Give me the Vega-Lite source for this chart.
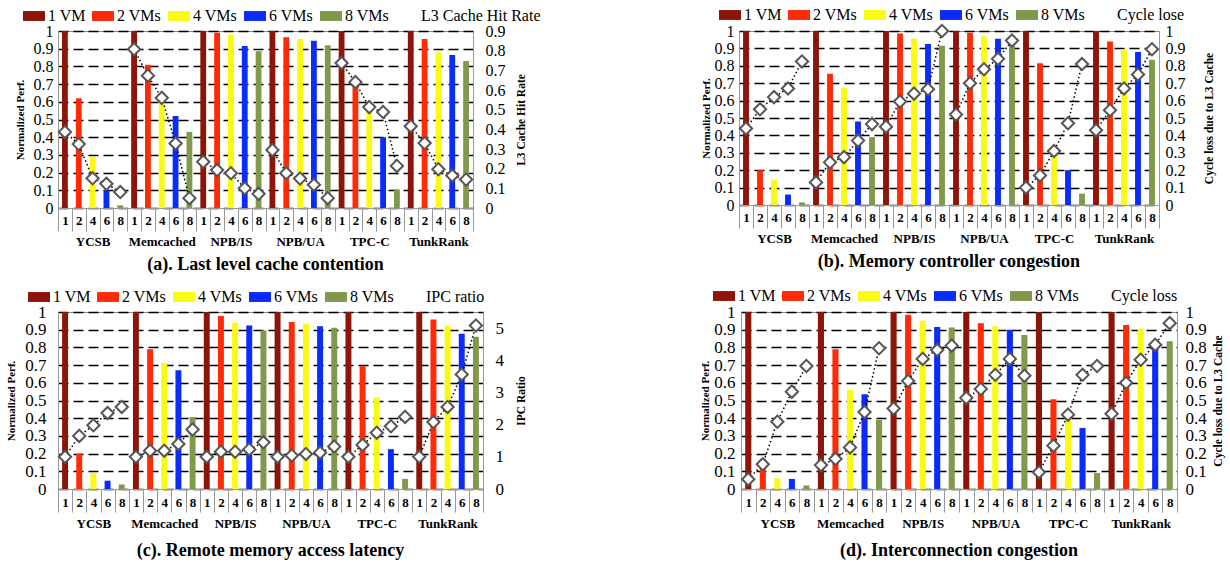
{
"$schema": "https://vega.github.io/schema/vega-lite/v6.json",
"padding": {"left": 5, "top": 3, "right": 2, "bottom": 2},
"background": "white",
"config": {"font": "Liberation Serif", "view": {"stroke": "#888", "strokeWidth": 1}},
"datasets": {
"a": [
{"w":"YCSB","v":"1","s":"1 VM","k":"YCSB|1","y":1,"r":0.387},
{"w":"YCSB","v":"2","s":"2 VMs","k":"YCSB|2","y":0.62,"r":0.325},
{"w":"YCSB","v":"4","s":"4 VMs","k":"YCSB|4","y":0.29,"r":0.151},
{"w":"YCSB","v":"6","s":"6 VMs","k":"YCSB|6","y":0.1,"r":0.123},
{"w":"YCSB","v":"8","s":"8 VMs","k":"YCSB|8","y":0.015,"r":0.081},
{"w":"Memcached","v":"1","s":"1 VM","k":"Memcached|1","y":1,"r":0.807},
{"w":"Memcached","v":"2","s":"2 VMs","k":"Memcached|2","y":0.81,"r":0.673},
{"w":"Memcached","v":"4","s":"4 VMs","k":"Memcached|4","y":0.61,"r":0.56},
{"w":"Memcached","v":"6","s":"6 VMs","k":"Memcached|6","y":0.52,"r":0.328},
{"w":"Memcached","v":"8","s":"8 VMs","k":"Memcached|8","y":0.43,"r":0.05},
{"w":"NPB/IS","v":"1","s":"1 VM","k":"NPB/IS|1","y":1,"r":0.235},
{"w":"NPB/IS","v":"2","s":"2 VMs","k":"NPB/IS|2","y":0.99,"r":0.193},
{"w":"NPB/IS","v":"4","s":"4 VMs","k":"NPB/IS|4","y":0.98,"r":0.177},
{"w":"NPB/IS","v":"6","s":"6 VMs","k":"NPB/IS|6","y":0.915,"r":0.1},
{"w":"NPB/IS","v":"8","s":"8 VMs","k":"NPB/IS|8","y":0.885,"r":0.072},
{"w":"NPB/UA","v":"1","s":"1 VM","k":"NPB/UA|1","y":1,"r":0.295},
{"w":"NPB/UA","v":"2","s":"2 VMs","k":"NPB/UA|2","y":0.965,"r":0.177},
{"w":"NPB/UA","v":"4","s":"4 VMs","k":"NPB/UA|4","y":0.955,"r":0.15},
{"w":"NPB/UA","v":"6","s":"6 VMs","k":"NPB/UA|6","y":0.945,"r":0.118},
{"w":"NPB/UA","v":"8","s":"8 VMs","k":"NPB/UA|8","y":0.92,"r":0.05},
{"w":"TPC-C","v":"1","s":"1 VM","k":"TPC-C|1","y":1,"r":0.737},
{"w":"TPC-C","v":"2","s":"2 VMs","k":"TPC-C|2","y":0.71,"r":0.64},
{"w":"TPC-C","v":"4","s":"4 VMs","k":"TPC-C|4","y":0.6,"r":0.513},
{"w":"TPC-C","v":"6","s":"6 VMs","k":"TPC-C|6","y":0.4,"r":0.488},
{"w":"TPC-C","v":"8","s":"8 VMs","k":"TPC-C|8","y":0.105,"r":0.214},
{"w":"TunkRank","v":"1","s":"1 VM","k":"TunkRank|1","y":1,"r":0.416},
{"w":"TunkRank","v":"2","s":"2 VMs","k":"TunkRank|2","y":0.955,"r":0.33},
{"w":"TunkRank","v":"4","s":"4 VMs","k":"TunkRank|4","y":0.88,"r":0.197},
{"w":"TunkRank","v":"6","s":"6 VMs","k":"TunkRank|6","y":0.865,"r":0.165},
{"w":"TunkRank","v":"8","s":"8 VMs","k":"TunkRank|8","y":0.83,"r":0.145}
],
"b": [
{"w":"YCSB","v":"1","s":"1 VM","k":"YCSB|1","y":1,"r":0.44},
{"w":"YCSB","v":"2","s":"2 VMs","k":"YCSB|2","y":0.2,"r":0.55},
{"w":"YCSB","v":"4","s":"4 VMs","k":"YCSB|4","y":0.145,"r":0.62},
{"w":"YCSB","v":"6","s":"6 VMs","k":"YCSB|6","y":0.06,"r":0.67},
{"w":"YCSB","v":"8","s":"8 VMs","k":"YCSB|8","y":0.015,"r":0.825},
{"w":"Memcached","v":"1","s":"1 VM","k":"Memcached|1","y":1,"r":0.13},
{"w":"Memcached","v":"2","s":"2 VMs","k":"Memcached|2","y":0.755,"r":0.245},
{"w":"Memcached","v":"4","s":"4 VMs","k":"Memcached|4","y":0.675,"r":0.275},
{"w":"Memcached","v":"6","s":"6 VMs","k":"Memcached|6","y":0.48,"r":0.37},
{"w":"Memcached","v":"8","s":"8 VMs","k":"Memcached|8","y":0.39,"r":0.465},
{"w":"NPB/IS","v":"1","s":"1 VM","k":"NPB/IS|1","y":1,"r":0.45},
{"w":"NPB/IS","v":"2","s":"2 VMs","k":"NPB/IS|2","y":0.985,"r":0.595},
{"w":"NPB/IS","v":"4","s":"4 VMs","k":"NPB/IS|4","y":0.955,"r":0.64},
{"w":"NPB/IS","v":"6","s":"6 VMs","k":"NPB/IS|6","y":0.925,"r":0.665},
{"w":"NPB/IS","v":"8","s":"8 VMs","k":"NPB/IS|8","y":0.915,"r":1.0},
{"w":"NPB/UA","v":"1","s":"1 VM","k":"NPB/UA|1","y":1,"r":0.52},
{"w":"NPB/UA","v":"2","s":"2 VMs","k":"NPB/UA|2","y":0.99,"r":0.7},
{"w":"NPB/UA","v":"4","s":"4 VMs","k":"NPB/UA|4","y":0.97,"r":0.78},
{"w":"NPB/UA","v":"6","s":"6 VMs","k":"NPB/UA|6","y":0.955,"r":0.84},
{"w":"NPB/UA","v":"8","s":"8 VMs","k":"NPB/UA|8","y":0.93,"r":0.945},
{"w":"TPC-C","v":"1","s":"1 VM","k":"TPC-C|1","y":1,"r":0.1},
{"w":"TPC-C","v":"2","s":"2 VMs","k":"TPC-C|2","y":0.815,"r":0.17},
{"w":"TPC-C","v":"4","s":"4 VMs","k":"TPC-C|4","y":0.3,"r":0.31},
{"w":"TPC-C","v":"6","s":"6 VMs","k":"TPC-C|6","y":0.2,"r":0.47},
{"w":"TPC-C","v":"8","s":"8 VMs","k":"TPC-C|8","y":0.065,"r":0.81},
{"w":"TunkRank","v":"1","s":"1 VM","k":"TunkRank|1","y":1,"r":0.43},
{"w":"TunkRank","v":"2","s":"2 VMs","k":"TunkRank|2","y":0.94,"r":0.545},
{"w":"TunkRank","v":"4","s":"4 VMs","k":"TunkRank|4","y":0.895,"r":0.67},
{"w":"TunkRank","v":"6","s":"6 VMs","k":"TunkRank|6","y":0.88,"r":0.75},
{"w":"TunkRank","v":"8","s":"8 VMs","k":"TunkRank|8","y":0.835,"r":0.895}
],
"c": [
{"w":"YCSB","v":"1","s":"1 VM","k":"YCSB|1","y":1,"r":1.0},
{"w":"YCSB","v":"2","s":"2 VMs","k":"YCSB|2","y":0.2,"r":1.65},
{"w":"YCSB","v":"4","s":"4 VMs","k":"YCSB|4","y":0.09,"r":1.98},
{"w":"YCSB","v":"6","s":"6 VMs","k":"YCSB|6","y":0.047,"r":2.36},
{"w":"YCSB","v":"8","s":"8 VMs","k":"YCSB|8","y":0.026,"r":2.55},
{"w":"Memcached","v":"1","s":"1 VM","k":"Memcached|1","y":1,"r":1.0},
{"w":"Memcached","v":"2","s":"2 VMs","k":"Memcached|2","y":0.79,"r":1.19},
{"w":"Memcached","v":"4","s":"4 VMs","k":"Memcached|4","y":0.713,"r":1.19},
{"w":"Memcached","v":"6","s":"6 VMs","k":"Memcached|6","y":0.671,"r":1.4},
{"w":"Memcached","v":"8","s":"8 VMs","k":"Memcached|8","y":0.406,"r":1.85},
{"w":"NPB/IS","v":"1","s":"1 VM","k":"NPB/IS|1","y":1,"r":1.0},
{"w":"NPB/IS","v":"2","s":"2 VMs","k":"NPB/IS|2","y":0.977,"r":1.16},
{"w":"NPB/IS","v":"4","s":"4 VMs","k":"NPB/IS|4","y":0.94,"r":1.16},
{"w":"NPB/IS","v":"6","s":"6 VMs","k":"NPB/IS|6","y":0.924,"r":1.23},
{"w":"NPB/IS","v":"8","s":"8 VMs","k":"NPB/IS|8","y":0.896,"r":1.45},
{"w":"NPB/UA","v":"1","s":"1 VM","k":"NPB/UA|1","y":1,"r":1.0},
{"w":"NPB/UA","v":"2","s":"2 VMs","k":"NPB/UA|2","y":0.943,"r":1.04},
{"w":"NPB/UA","v":"4","s":"4 VMs","k":"NPB/UA|4","y":0.934,"r":1.09},
{"w":"NPB/UA","v":"6","s":"6 VMs","k":"NPB/UA|6","y":0.92,"r":1.13},
{"w":"NPB/UA","v":"8","s":"8 VMs","k":"NPB/UA|8","y":0.911,"r":1.32},
{"w":"TPC-C","v":"1","s":"1 VM","k":"TPC-C|1","y":1,"r":1.0},
{"w":"TPC-C","v":"2","s":"2 VMs","k":"TPC-C|2","y":0.694,"r":1.37},
{"w":"TPC-C","v":"4","s":"4 VMs","k":"TPC-C|4","y":0.518,"r":1.75},
{"w":"TPC-C","v":"6","s":"6 VMs","k":"TPC-C|6","y":0.225,"r":1.95},
{"w":"TPC-C","v":"8","s":"8 VMs","k":"TPC-C|8","y":0.057,"r":2.24},
{"w":"TunkRank","v":"1","s":"1 VM","k":"TunkRank|1","y":1,"r":1.0},
{"w":"TunkRank","v":"2","s":"2 VMs","k":"TunkRank|2","y":0.957,"r":2.08},
{"w":"TunkRank","v":"4","s":"4 VMs","k":"TunkRank|4","y":0.922,"r":2.55},
{"w":"TunkRank","v":"6","s":"6 VMs","k":"TunkRank|6","y":0.877,"r":3.56},
{"w":"TunkRank","v":"8","s":"8 VMs","k":"TunkRank|8","y":0.86,"r":5.08}
],
"d": [
{"w":"YCSB","v":"1","s":"1 VM","k":"YCSB|1","y":1,"r":0.055},
{"w":"YCSB","v":"2","s":"2 VMs","k":"YCSB|2","y":0.17,"r":0.14},
{"w":"YCSB","v":"4","s":"4 VMs","k":"YCSB|4","y":0.06,"r":0.38},
{"w":"YCSB","v":"6","s":"6 VMs","k":"YCSB|6","y":0.057,"r":0.55},
{"w":"YCSB","v":"8","s":"8 VMs","k":"YCSB|8","y":0.02,"r":0.695},
{"w":"Memcached","v":"1","s":"1 VM","k":"Memcached|1","y":1,"r":0.135},
{"w":"Memcached","v":"2","s":"2 VMs","k":"Memcached|2","y":0.79,"r":0.17},
{"w":"Memcached","v":"4","s":"4 VMs","k":"Memcached|4","y":0.56,"r":0.235},
{"w":"Memcached","v":"6","s":"6 VMs","k":"Memcached|6","y":0.535,"r":0.435},
{"w":"Memcached","v":"8","s":"8 VMs","k":"Memcached|8","y":0.39,"r":0.795},
{"w":"NPB/IS","v":"1","s":"1 VM","k":"NPB/IS|1","y":1,"r":0.455},
{"w":"NPB/IS","v":"2","s":"2 VMs","k":"NPB/IS|2","y":0.985,"r":0.61},
{"w":"NPB/IS","v":"4","s":"4 VMs","k":"NPB/IS|4","y":0.95,"r":0.735},
{"w":"NPB/IS","v":"6","s":"6 VMs","k":"NPB/IS|6","y":0.915,"r":0.785},
{"w":"NPB/IS","v":"8","s":"8 VMs","k":"NPB/IS|8","y":0.912,"r":0.81},
{"w":"NPB/UA","v":"1","s":"1 VM","k":"NPB/UA|1","y":1,"r":0.515},
{"w":"NPB/UA","v":"2","s":"2 VMs","k":"NPB/UA|2","y":0.937,"r":0.565},
{"w":"NPB/UA","v":"4","s":"4 VMs","k":"NPB/UA|4","y":0.92,"r":0.645},
{"w":"NPB/UA","v":"6","s":"6 VMs","k":"NPB/UA|6","y":0.9,"r":0.735},
{"w":"NPB/UA","v":"8","s":"8 VMs","k":"NPB/UA|8","y":0.87,"r":0.64},
{"w":"TPC-C","v":"1","s":"1 VM","k":"TPC-C|1","y":1,"r":0.095},
{"w":"TPC-C","v":"2","s":"2 VMs","k":"TPC-C|2","y":0.507,"r":0.245},
{"w":"TPC-C","v":"4","s":"4 VMs","k":"TPC-C|4","y":0.41,"r":0.42},
{"w":"TPC-C","v":"6","s":"6 VMs","k":"TPC-C|6","y":0.345,"r":0.645},
{"w":"TPC-C","v":"8","s":"8 VMs","k":"TPC-C|8","y":0.09,"r":0.695},
{"w":"TunkRank","v":"1","s":"1 VM","k":"TunkRank|1","y":1,"r":0.425},
{"w":"TunkRank","v":"2","s":"2 VMs","k":"TunkRank|2","y":0.927,"r":0.6},
{"w":"TunkRank","v":"4","s":"4 VMs","k":"TunkRank|4","y":0.905,"r":0.73},
{"w":"TunkRank","v":"6","s":"6 VMs","k":"TunkRank|6","y":0.83,"r":0.815},
{"w":"TunkRank","v":"8","s":"8 VMs","k":"TunkRank|8","y":0.835,"r":0.937}
]
},
"vconcat": [
{
"hconcat": [
{
"width": 415, "height": 177,
"data": {"name": "a"},
"title": {"text": "(a). Last level cache contention", "orient": "bottom", "font": "Liberation Serif", "fontSize": 18, "fontWeight": "bold", "offset": 8, "anchor": "middle", "color": "black"},
"encoding": {"x": {"field": "k", "type": "nominal", "sort": null, "scale": {"paddingInner": 0, "paddingOuter": 0},
  "axis": {"title": null, "labelExpr": "split(datum.value,'|')[1] == '4' ? [split(datum.value,'|')[1], split(datum.value,'|')[0]] : split(datum.value,'|')[1]", "labelAngle": 0, "tickBand": "extent", "tickSize": 23, "tickColor": "#999", "domainColor": "#999", "labelPadding": -17, "labelFont": "Liberation Serif", "labelFontWeight": "bold", "labelFontSize": 13, "labelLineHeight": 21, "labelBaseline": "top", "labelColor": "black", "labelOverlap": false}}},
"layer": [
{"mark": {"type": "bar", "width": {"band": 0.42}},
 "encoding": {
  "y": {"field": "y", "type": "quantitative", "scale": {"domain": [0, 1], "nice": false},
   "axis": {"title": "Normalized Perf.", "values": [0,0.1,0.2,0.3,0.4,0.5,0.6,0.7,0.8,0.9,1], "format": "~g", "grid": true, "gridDash": [10,5], "gridColor": "black", "gridWidth": 1.3, "gridOpacity": 1, "ticks": false, "domainColor": "#999", "labelFont": "Liberation Serif", "labelFontSize": 16, "labelColor": "black", "labelPadding": 5, "titleFont": "Liberation Serif", "titleFontWeight": "bold", "titleFontSize": 11, "titleColor": "black", "titlePadding": 8}},
  "color": {"field": "s", "type": "nominal", "scale": {"domain": ["1 VM","2 VMs","4 VMs","6 VMs","8 VMs","L3 Cache Hit Rate"], "range": ["#8C1509","#FF2B06","#FAFA14","#0B2BFA","#81994C","#ffffff"]},
   "legend": {"orient": "none", "legendX": -35, "legendY": -26, "direction": "horizontal", "title": null, "symbolType": "M-1,-0.45H1V0.45H-1Z", "symbolSize": 484, "symbolStrokeWidth": 0, "symbolOpacity": 1, "labelFont": "Liberation Serif", "labelFontSize": 16, "labelColor": "black", "labelOffset": 3, "columnPadding": 6}}
 }},
{"encoding": {"y": {"field": "r", "type": "quantitative", "scale": {"domain": [0, 0.9], "nice": false},
   "axis": {"orient": "right", "title": "L3 Cache Hit Rate", "titleAngle": 270, "titleBaseline": "top", "values": [0,0.1,0.2,0.3,0.4,0.5,0.6,0.7,0.8,0.9], "format": "~g", "grid": false, "ticks": false, "domainColor": "#999", "labelFont": "Liberation Serif", "labelFontSize": 16, "labelColor": "black", "labelPadding": 12, "titleFont": "Liberation Serif", "titleFontWeight": "bold", "titleFontSize": 11.5, "titleColor": "black", "titlePadding": 10}}},
 "layer": [
  {"mark": {"type": "line", "color": "black", "strokeWidth": 1.5, "strokeDash": [1.5, 2.5]}, "encoding": {"detail": {"field": "w"}}},
  {"mark": {"type": "point", "shape": "diamond", "filled": false, "fill": "white", "fillOpacity": 1, "stroke": "#555", "strokeWidth": 2, "size": 150, "opacity": 1}}
 ]}
],
"resolve": {"scale": {"y": "independent"}}
},
{
"width": 420, "height": 174,
"data": {"name": "b"},
"title": {"text": "(b). Memory controller congestion", "orient": "bottom", "font": "Liberation Serif", "fontSize": 18, "fontWeight": "bold", "offset": 8, "anchor": "middle", "color": "black"},
"encoding": {"x": {"field": "k", "type": "nominal", "sort": null, "scale": {"paddingInner": 0, "paddingOuter": 0},
  "axis": {"title": null, "labelExpr": "split(datum.value,'|')[1] == '4' ? [split(datum.value,'|')[1], split(datum.value,'|')[0]] : split(datum.value,'|')[1]", "labelAngle": 0, "tickBand": "extent", "tickSize": 23, "tickColor": "#999", "domainColor": "#999", "labelPadding": -17, "labelFont": "Liberation Serif", "labelFontWeight": "bold", "labelFontSize": 13, "labelLineHeight": 21, "labelBaseline": "top", "labelColor": "black", "labelOverlap": false}}},
"layer": [
{"mark": {"type": "bar", "width": {"band": 0.42}},
 "encoding": {
  "y": {"field": "y", "type": "quantitative", "scale": {"domain": [0, 1], "nice": false},
   "axis": {"title": "Normalized Perf.", "values": [0,0.1,0.2,0.3,0.4,0.5,0.6,0.7,0.8,0.9,1], "format": "~g", "grid": true, "gridDash": [10,5], "gridColor": "black", "gridWidth": 1.3, "gridOpacity": 1, "ticks": false, "domainColor": "#999", "labelFont": "Liberation Serif", "labelFontSize": 16, "labelColor": "black", "labelPadding": 5, "titleFont": "Liberation Serif", "titleFontWeight": "bold", "titleFontSize": 11, "titleColor": "black", "titlePadding": 3}},
  "color": {"field": "s", "type": "nominal", "scale": {"domain": ["1 VM","2 VMs","4 VMs","6 VMs","8 VMs","Cycle lose"], "range": ["#8C1509","#FF2B06","#FAFA14","#0B2BFA","#81994C","#ffffff"]},
   "legend": {"orient": "none", "legendX": -20, "legendY": -27, "direction": "horizontal", "title": null, "symbolType": "M-1,-0.45H1V0.45H-1Z", "symbolSize": 484, "symbolStrokeWidth": 0, "symbolOpacity": 1, "labelFont": "Liberation Serif", "labelFontSize": 16, "labelColor": "black", "labelOffset": 3, "columnPadding": 6}}
 }},
{"encoding": {"y": {"field": "r", "type": "quantitative", "scale": {"domain": [0, 1], "nice": false},
   "axis": {"orient": "right", "title": "Cycle loss due to L3 Cache", "titleAngle": 270, "titleBaseline": "top", "values": [0,0.1,0.2,0.3,0.4,0.5,0.6,0.7,0.8,0.9,1], "format": "~g", "grid": false, "ticks": false, "domainColor": "#999", "labelFont": "Liberation Serif", "labelFontSize": 16, "labelColor": "black", "labelPadding": 6, "titleFont": "Liberation Serif", "titleFontWeight": "bold", "titleFontSize": 11.5, "titleColor": "black", "titlePadding": 18}}},
 "layer": [
  {"mark": {"type": "line", "color": "black", "strokeWidth": 1.5, "strokeDash": [1.5, 2.5]}, "encoding": {"detail": {"field": "w"}}},
  {"mark": {"type": "point", "shape": "diamond", "filled": false, "fill": "white", "fillOpacity": 1, "stroke": "#555", "strokeWidth": 2, "size": 150, "opacity": 1}}
 ]}
],
"resolve": {"scale": {"y": "independent"}}
}
],
"spacing": 157,
"resolve": {"scale": {"color": "independent", "x": "independent", "y": "independent"}, "legend": {"color": "independent"}}
},
{
"hconcat": [
{
"width": 425, "height": 177,
"data": {"name": "c"},
"title": {"text": "(c). Remote memory access latency", "orient": "bottom", "font": "Liberation Serif", "fontSize": 18, "fontWeight": "bold", "offset": 12, "anchor": "middle", "color": "black"},
"encoding": {"x": {"field": "k", "type": "nominal", "sort": null, "scale": {"paddingInner": 0, "paddingOuter": 0},
  "axis": {"title": null, "labelExpr": "split(datum.value,'|')[1] == '4' ? [split(datum.value,'|')[1], split(datum.value,'|')[0]] : split(datum.value,'|')[1]", "labelAngle": 0, "tickBand": "extent", "tickSize": 23, "tickColor": "#999", "domainColor": "#999", "labelPadding": -16, "labelFont": "Liberation Serif", "labelFontWeight": "bold", "labelFontSize": 13, "labelLineHeight": 21, "labelBaseline": "top", "labelColor": "black", "labelOverlap": false}}},
"layer": [
{"mark": {"type": "bar", "width": {"band": 0.42}},
 "encoding": {
  "y": {"field": "y", "type": "quantitative", "scale": {"domain": [0, 1], "nice": false},
   "axis": {"title": "Normalized Perf.", "values": [0,0.1,0.2,0.3,0.4,0.5,0.6,0.7,0.8,0.9,1], "format": "~g", "grid": true, "gridDash": [10,5], "gridColor": "black", "gridWidth": 1.3, "gridOpacity": 1, "ticks": false, "domainColor": "#999", "labelFont": "Liberation Serif", "labelFontSize": 17, "labelColor": "black", "labelPadding": 12, "titleFont": "Liberation Serif", "titleFontWeight": "bold", "titleFontSize": 11, "titleColor": "black", "titlePadding": 8}},
  "color": {"field": "s", "type": "nominal", "scale": {"domain": ["1 VM","2 VMs","4 VMs","6 VMs","8 VMs","IPC ratio"], "range": ["#8C1509","#FF2B06","#FAFA14","#0B2BFA","#81994C","#ffffff"]},
   "legend": {"orient": "none", "legendX": -30, "legendY": -26, "direction": "horizontal", "title": null, "symbolType": "M-1,-0.45H1V0.45H-1Z", "symbolSize": 484, "symbolStrokeWidth": 0, "symbolOpacity": 1, "labelFont": "Liberation Serif", "labelFontSize": 16, "labelColor": "black", "labelOffset": 3, "columnPadding": 6}}
 }},
{"encoding": {"y": {"field": "r", "type": "quantitative", "scale": {"domain": [0, 5.5], "nice": false},
   "axis": {"orient": "right", "title": "IPC Ratio", "titleAngle": 270, "titleBaseline": "top", "values": [0,1,2,3,4,5], "format": "~g", "grid": false, "ticks": false, "domainColor": "#999", "labelFont": "Liberation Serif", "labelFontSize": 17, "labelColor": "black", "labelPadding": 12, "titleFont": "Liberation Serif", "titleFontWeight": "bold", "titleFontSize": 11.5, "titleColor": "black", "titlePadding": 12}}},
 "layer": [
  {"mark": {"type": "line", "color": "black", "strokeWidth": 1.5, "strokeDash": [1.5, 2.5]}, "encoding": {"detail": {"field": "w"}}},
  {"mark": {"type": "point", "shape": "diamond", "filled": false, "fill": "white", "fillOpacity": 1, "stroke": "#555", "strokeWidth": 2, "size": 150, "opacity": 1}}
 ]}
],
"resolve": {"scale": {"y": "independent"}}
},
{
"width": 436, "height": 177,
"data": {"name": "d"},
"title": {"text": "(d). Interconnection congestion", "orient": "bottom", "font": "Liberation Serif", "fontSize": 18, "fontWeight": "bold", "offset": 12, "anchor": "middle", "color": "black"},
"encoding": {"x": {"field": "k", "type": "nominal", "sort": null, "scale": {"paddingInner": 0, "paddingOuter": 0},
  "axis": {"title": null, "labelExpr": "split(datum.value,'|')[1] == '4' ? [split(datum.value,'|')[1], split(datum.value,'|')[0]] : split(datum.value,'|')[1]", "labelAngle": 0, "tickBand": "extent", "tickSize": 23, "tickColor": "#999", "domainColor": "#999", "labelPadding": -16, "labelFont": "Liberation Serif", "labelFontWeight": "bold", "labelFontSize": 13, "labelLineHeight": 21, "labelBaseline": "top", "labelColor": "black", "labelOverlap": false}}},
"layer": [
{"mark": {"type": "bar", "width": {"band": 0.42}},
 "encoding": {
  "y": {"field": "y", "type": "quantitative", "scale": {"domain": [0, 1], "nice": false},
   "axis": {"title": "Normalized Perf.", "values": [0,0.1,0.2,0.3,0.4,0.5,0.6,0.7,0.8,0.9,1], "format": "~g", "grid": true, "gridDash": [10,5], "gridColor": "black", "gridWidth": 1.3, "gridOpacity": 1, "ticks": false, "domainColor": "#999", "labelFont": "Liberation Serif", "labelFontSize": 17, "labelColor": "black", "labelPadding": 6, "titleFont": "Liberation Serif", "titleFontWeight": "bold", "titleFontSize": 11, "titleColor": "black", "titlePadding": 3}},
  "color": {"field": "s", "type": "nominal", "scale": {"domain": ["1 VM","2 VMs","4 VMs","6 VMs","8 VMs","Cycle loss"], "range": ["#8C1509","#FF2B06","#FAFA14","#0B2BFA","#81994C","#ffffff"]},
   "legend": {"orient": "none", "legendX": -28, "legendY": -27, "direction": "horizontal", "title": null, "symbolType": "M-1,-0.45H1V0.45H-1Z", "symbolSize": 484, "symbolStrokeWidth": 0, "symbolOpacity": 1, "labelFont": "Liberation Serif", "labelFontSize": 16, "labelColor": "black", "labelOffset": 3, "columnPadding": 6}}
 }},
{"encoding": {"y": {"field": "r", "type": "quantitative", "scale": {"domain": [0, 1], "nice": false},
   "axis": {"orient": "right", "title": "Cycle loss due to L3 Cache", "titleAngle": 270, "titleBaseline": "top", "values": [0,0.1,0.2,0.3,0.4,0.5,0.6,0.7,0.8,0.9,1], "format": "~g", "grid": false, "ticks": false, "domainColor": "#999", "labelFont": "Liberation Serif", "labelFontSize": 17, "labelColor": "black", "labelPadding": 8, "titleFont": "Liberation Serif", "titleFontWeight": "bold", "titleFontSize": 11.5, "titleColor": "black", "titlePadding": 6}}},
 "layer": [
  {"mark": {"type": "line", "color": "black", "strokeWidth": 1.5, "strokeDash": [1.5, 2.5]}, "encoding": {"detail": {"field": "w"}}},
  {"mark": {"type": "point", "shape": "diamond", "filled": false, "fill": "white", "fillOpacity": 1, "stroke": "#555", "strokeWidth": 2, "size": 150, "opacity": 1}}
 ]}
],
"resolve": {"scale": {"y": "independent"}}
}
],
"spacing": 171,
"resolve": {"scale": {"color": "independent", "x": "independent", "y": "independent"}, "legend": {"color": "independent"}}
}
],
"spacing": 9,
"resolve": {"scale": {"color": "independent", "x": "independent", "y": "independent"}, "legend": {"color": "independent"}}
}
